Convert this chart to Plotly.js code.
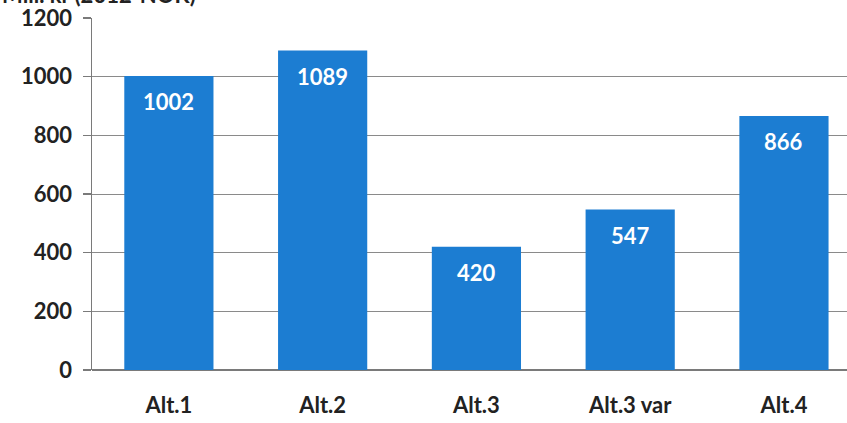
<!DOCTYPE html>
<html>
<head>
<meta charset="utf-8">
<script src="https://cdn.plot.ly/plotly-3.0.1.min.js"></script>
<style>
html,body{margin:0;padding:0;background:#fff;}
#chart{width:847px;height:423px;}
</style>
</head>
<body>
<div id="chart"></div>
<script>
const categories = ["Alt.1", "Alt.2", "Alt.3", "Alt.3 var", "Alt.4"];
const values = [1002, 1089, 420, 547, 866];
const yTicks = [0, 200, 400, 600, 800, 1000, 1200];
const unitLabel = "Mill. kr (2012-NOK)";

const FONT = "Lato, 'Open Sans', sans-serif";

const trace = {
  type: "bar",
  x: categories,
  y: values,
  marker: {color: "#1c7dd2", line: {width: 0}},
  width: 0.58,
  textposition: "none",
  hoverinfo: "none"
};

const annotations = categories.map((c, i) => ({
  x: c, y: values[i], xref: "x", yref: "y",
  text: String(values[i]),
  showarrow: false,
  yanchor: "top", yshift: -10,
  font: {family: FONT, size: 22, color: "#ffffff", weight: "bold"}
}));
annotations.push({
  xref: "paper", yref: "paper", x: 0, y: 1,
  xanchor: "left", yanchor: "bottom", xshift: -92, yshift: 8,
  text: unitLabel, showarrow: false,
  font: {family: FONT, size: 22, color: "#222222", weight: "bold"}
});

const layout = {
  width: 847, height: 423,
  margin: {l: 92, r: 0, t: 18, b: 53, pad: 0},
  paper_bgcolor: "#ffffff",
  plot_bgcolor: "#ffffff",
  showlegend: false,
  xaxis: {
    type: "category",
    range: [-0.5, 4.41],
    showgrid: false,
    zeroline: false,
    showline: false,
    ticks: "",
    ticklabelstandoff: 20,
    tickfont: {family: FONT, size: 22, color: "#222222", weight: "bold"},
    fixedrange: true
  },
  yaxis: {
    range: [0, 1200],
    tickvals: yTicks,
    ticktext: yTicks.map(String),
    showgrid: true,
    gridcolor: "#8a8a8a",
    gridwidth: 1,
    zeroline: true,
    zerolinecolor: "#7a7a7a",
    zerolinewidth: 1.5,
    showline: true,
    linecolor: "#7a7a7a",
    linewidth: 1.5,
    ticks: "outside",
    ticklen: 8,
    tickcolor: "#7a7a7a",
    tickwidth: 1.5,
    ticklabelstandoff: 6,
    tickfont: {family: FONT, size: 22, color: "#222222", weight: "bold"},
    fixedrange: true
  },
  annotations: annotations
};

Plotly.newPlot("chart", [trace], layout, {displayModeBar: false, staticPlot: true});
</script>
</body>
</html>
